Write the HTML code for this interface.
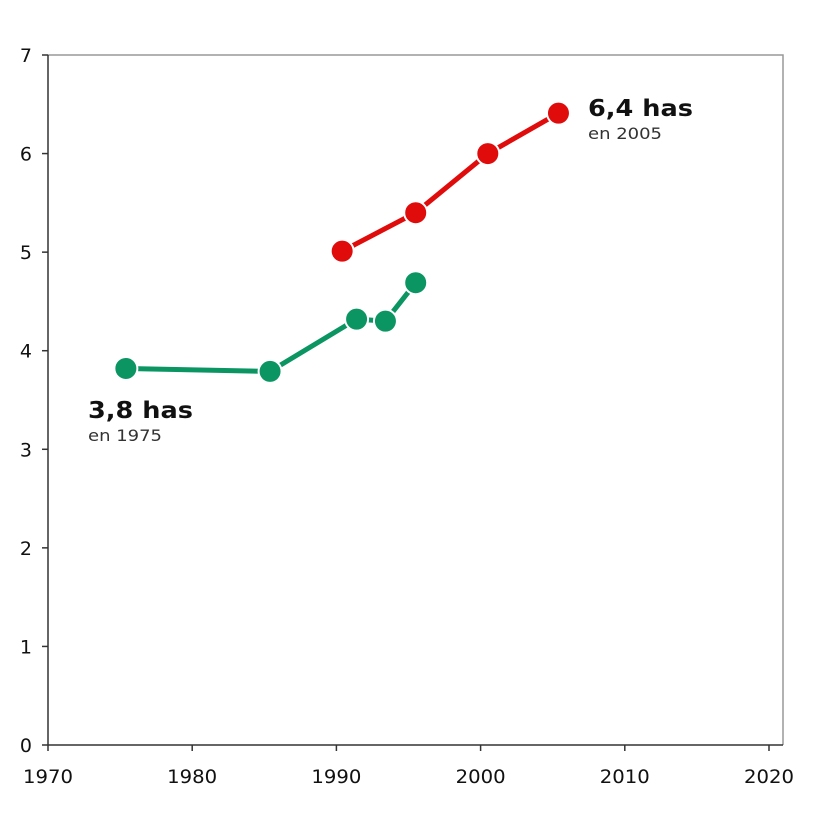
<!DOCTYPE html>
<html><head><meta charset="utf-8"><style>
html,body{margin:0;padding:0;background:#fff;}
svg{display:block;font-family:"DejaVu Sans","Liberation Sans",sans-serif;}
</style></head><body>
<svg id="chart" width="826" height="830" viewBox="0 0 826 830">
<rect x="0" y="0" width="826" height="830" fill="#fff"/>
<g id="frame"></g>
<g id="axes"></g>
<g id="series"></g>
<g id="labels"></g>
</svg>
<script>
const xTicks=[1970,1980,1990,2000,2010,2020];
const yTicks=[0,1,2,3,4,5,6,7];
const greenYears=[1975.4,1985.4,1991.4,1993.4,1995.5];
const greenValues=[3.82,3.79,4.32,4.30,4.69];
const redYears=[1990.4,1995.5,2000.5,2005.4];
const redValues=[5.01,5.40,6.00,6.41];
const NS="http://www.w3.org/2000/svg";
const x=v=>48+(v-1970)*(769-48)/50;
const y=v=>745-v*(745-55)/7;
function mk(tag,attrs,parent){const e=document.createElementNS(NS,tag);for(const k in attrs)e.setAttribute(k,attrs[k]);parent.appendChild(e);return e;}
const frame=document.getElementById('frame'),axes=document.getElementById('axes'),series=document.getElementById('series'),labels=document.getElementById('labels');
let e;
e=mk('path',{d:`M${x(1970)} ${y(7)} H783 V${y(0)}`,fill:'none',stroke:'#999','stroke-width':1.5},frame);


e=mk('line',{x1:x(1970),y1:y(0),x2:783,y2:y(0),stroke:'#333','stroke-width':1.5},axes);


e=mk('line',{x1:x(1970),y1:y(0),x2:x(1970),y2:y(7),stroke:'#333','stroke-width':1.5},axes);


xTicks.forEach(t=>{
 e=mk('line',{x1:x(t),y1:y(0),x2:x(t),y2:y(0)+6,stroke:'#333','stroke-width':1.5},axes);
 
 
 e=mk('text',{x:x(t),y:783,'text-anchor':'middle','font-size':19,fill:'#111',textLength:50,lengthAdjust:'spacingAndGlyphs'},axes);
 e.textContent=t;
 
 
});
yTicks.forEach(t=>{
 e=mk('text',{x:32,y:y(t)+7,'text-anchor':'end','font-size':19,fill:'#111'},axes);
 e.textContent=t;
 
 
 e=mk('line',{x1:x(1970)-6,y1:y(t),x2:x(1970),y2:y(t),stroke:'#333','stroke-width':1.5},axes);
 
 
});
function drawSeries(xs,vs,color,name){
 const pts=xs.map((a,i)=>x(a)+','+y(vs[i])).join(' ');
 e=mk('polyline',{points:pts,fill:'none',stroke:color,'stroke-width':5,'stroke-linejoin':'round'},series);
 
 
 xs.forEach((a,i)=>{
  e=mk('circle',{cx:x(a),cy:y(vs[i]),r:11.5,fill:color,stroke:'#fff','stroke-width':2},series);
  
  
 });
}
drawSeries(greenYears,greenValues,'#0a9563','green-series');
drawSeries(redYears,redValues,'#e00b0b','red-series');
function label(tx,ty,big,small,name){
 e=mk('text',{x:tx,y:ty,'font-size':23,'font-weight':'bold',fill:'#111',textLength:105,lengthAdjust:'spacingAndGlyphs'},labels);
 e.textContent=big;
 
 
 e=mk('text',{x:tx,y:ty+23,'font-size':16,fill:'#333',textLength:74,lengthAdjust:'spacingAndGlyphs'},labels);
 e.textContent=small;
 
 
}
label(588,116,'6,4 has','en 2005','red-annotation');
label(88,418,'3,8 has','en 1975','green-annotation');
</script>
</body></html>
